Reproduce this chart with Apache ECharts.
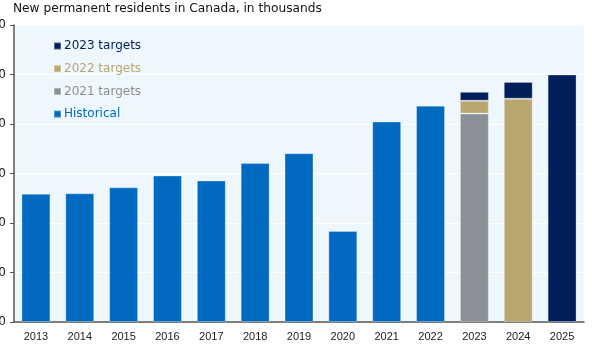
<!DOCTYPE html>
<html><head><meta charset="utf-8">
<script src="https://cdn.jsdelivr.net/npm/echarts@6/dist/echarts.min.js"></script>
<style>html,body{margin:0;padding:0;background:#fff}#c{width:592px;height:345px}</style>
</head><body><div id="c"></div>
<script>
const categories = ['2013','2014','2015','2016','2017','2018','2019','2020','2021','2022','2023','2024','2025'];
const historical = [259, 260, 272, 296, 286, 321, 341, 184, 405, 437, null, null, null];
const targets2021 = [null, null, null, null, null, null, null, null, null, null, 421, null, null];
const targets2022 = [null, null, null, null, null, null, null, null, null, null, 447, 451, null];
const targets2023 = [null, null, null, null, null, null, null, null, null, null, 465, 485, 500];
const yTicks = [0, 100, 200, 300, 400, 500, 600];

// stacked increments built from target levels
function inc(top, below) {
  return top.map((v, i) => v == null ? null : v - Math.max(0, ...below.map(b => b[i] == null ? 0 : b[i])));
}
const s2021 = targets2021;
const s2022 = inc(targets2022, [targets2021]);
const s2023 = inc(targets2023, [targets2021, targets2022]);

const colors = {hist:'#0069c0', t21:'#8a9096', t22:'#b8a870', t23:'#001f5b'};
const border = {borderColor:'rgba(255,255,255,0.3)', borderWidth:1};
const chart = echarts.init(document.getElementById('c'), null, {renderer:'canvas'});
chart.setOption({
  animation:false,
  title:{text:'New permanent residents in Canada, in thousands', left:8, top:-2,
    textStyle:{fontFamily:'DejaVu Sans', fontSize:12.2, fontWeight:'normal', color:'#111'}},
  grid:{left:14, right:8, top:25, bottom:23, containLabel:false, outerBoundsMode:'none',
    show:true, backgroundColor:'#eef6fe', borderWidth:0},
  legend:{left:53, top:39, padding:0, orient:'vertical', itemWidth:7, itemHeight:7, itemGap:8.7,
    icon:'rect', selectedMode:false,
    data:['2023 targets','2022 targets','2021 targets','Historical'],
    textStyle:{fontFamily:'DejaVu Sans', fontSize:12, lineHeight:14, color:'inherit', padding:[0,0,0,-2]}},
  xAxis:{type:'category', data:categories,
    axisLine:{lineStyle:{color:'#555', width:1.5}},
    axisTick:{show:false},
    axisLabel:{fontFamily:'Liberation Sans', fontSize:11, color:'#222', margin:9}},
  yAxis:{type:'value', min:yTicks[0], max:yTicks[yTicks.length-1], interval:100,
    axisLine:{show:true, lineStyle:{color:'#555', width:1.5}},
    axisTick:{show:true, length:4, lineStyle:{color:'#555'}},
    splitLine:{lineStyle:{color:'#ffffff', width:1}},
    axisLabel:{fontFamily:'DejaVu Sans', fontSize:12, color:'#222', margin:8}},
  series:[
    {name:'Historical', type:'bar', stack:'a', data:historical, barWidth:'66%',
      itemStyle:Object.assign({color:colors.hist}, border)},
    {name:'2021 targets', type:'bar', stack:'a', data:s2021, barWidth:'66%',
      itemStyle:Object.assign({color:colors.t21}, border)},
    {name:'2022 targets', type:'bar', stack:'a', data:s2022, barWidth:'66%',
      itemStyle:Object.assign({color:colors.t22}, border)},
    {name:'2023 targets', type:'bar', stack:'a', data:s2023, barWidth:'66%',
      itemStyle:Object.assign({color:colors.t23}, border)}
  ]
});
</script></body></html>
